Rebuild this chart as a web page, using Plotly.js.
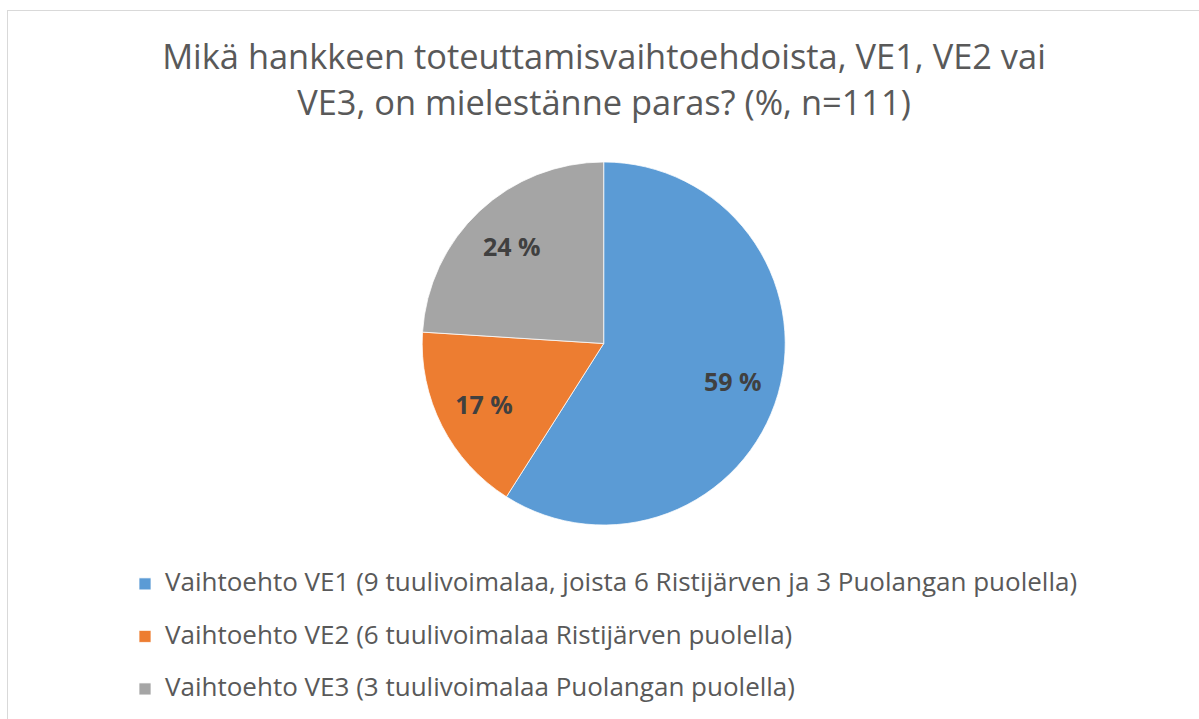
<!DOCTYPE html>
<html>
<head>
<meta charset="utf-8">
<script src="https://cdn.plot.ly/plotly-3.0.1.min.js"></script>
<style>
  html, body { margin: 0; padding: 0; background: #ffffff; }
  #wrap { position: relative; width: 1199px; height: 719px; overflow: hidden; }
  #frame { position: absolute; left: 7px; top: 10px; width: 1300px; height: 800px;
           border: 1px solid #d9d9d9; box-sizing: border-box; pointer-events: none; }
  #chart { position: absolute; left: 0; top: 0; width: 1199px; height: 719px; }
</style>
</head>
<body>
<div id="wrap">
  <div id="frame"></div>
  <div id="chart"></div>
</div>
<script>
// ---- data ----
const categories = [
  "Vaihtoehto VE1 (9 tuulivoimalaa, joista 6 Ristijärven ja 3 Puolangan puolella)",
  "Vaihtoehto VE2 (6 tuulivoimalaa Ristijärven puolella)",
  "Vaihtoehto VE3 (3 tuulivoimalaa Puolangan puolella)"
];
const percentValues = [59, 17, 24];
const sliceColors = ["#5B9BD5", "#ED7D31", "#A5A5A5"];
const titleLines = [
  "Mikä hankkeen toteuttamisvaihtoehdoista, VE1, VE2 vai",
  "VE3, on mielestänne paras? (%, n=111)"
];

// ---- build ----
const FONT = "Open Sans, Noto Sans, DejaVu Sans, sans-serif";
const legendLabels = categories.map(c => '<span style="font-size:26px">' + c + '</span><br>&nbsp;');
const sliceText = percentValues.map(v => v + ' %');
const pieDomain = { x: [0.3521, 0.6549], y: [0.2698, 0.7747] };

// main pie (slices + legend)
const pieTrace = {
  type: 'pie',
  labels: legendLabels,
  values: percentValues,
  textinfo: 'none',
  sort: false,
  direction: 'clockwise',
  rotation: 0,
  marker: { colors: sliceColors, line: { color: '#ffffff', width: 0.75 } },
  domain: pieDomain,
  hoverinfo: 'label+percent'
};

// transparent ring carrying the data labels (places them further out, like the original)
const labelTrace = {
  type: 'pie',
  labels: legendLabels,
  values: percentValues,
  text: sliceText,
  textinfo: 'text',
  textposition: 'inside',
  insidetextorientation: 'horizontal',
  hole: 0.48,
  sort: false,
  direction: 'clockwise',
  rotation: 0,
  showlegend: false,
  marker: { colors: ['rgba(0,0,0,0)', 'rgba(0,0,0,0)', 'rgba(0,0,0,0)'], line: { width: 0 } },
  insidetextfont: { family: FONT, size: 25, color: '#404040', weight: 'bold' },
  domain: pieDomain,
  hoverinfo: 'skip'
};

const layout = {
  width: 1199,
  height: 719,
  margin: { l: 0, r: 0, t: 0, b: 0, autoexpand: false },
  paper_bgcolor: 'rgba(0,0,0,0)',
  plot_bgcolor: 'rgba(0,0,0,0)',
  font: { family: FONT, color: '#595959' },
  title: {
    text: titleLines.map(t => '<span style="font-size:34.4px">' + t + '</span>').join('<br>'),
    font: { family: FONT, size: 35.5, color: '#595959' },
    x: 604 / 1199,
    xanchor: 'center',
    xref: 'paper',
    y: 1 - 69 / 719,
    yanchor: 'top',
    yref: 'container'
  },
  showlegend: true,
  legend: {
    orientation: 'v',
    x: 125 / 1199,
    xanchor: 'left',
    y: 1 - 565 / 719,
    yanchor: 'top',
    valign: 'top',
    font: { family: FONT, size: 19.05, color: '#595959' },
    bgcolor: 'rgba(0,0,0,0)'
  }
};

Plotly.newPlot('chart', [pieTrace, labelTrace], layout, { staticPlot: true, displayModeBar: false });
</script>
</body>
</html>
